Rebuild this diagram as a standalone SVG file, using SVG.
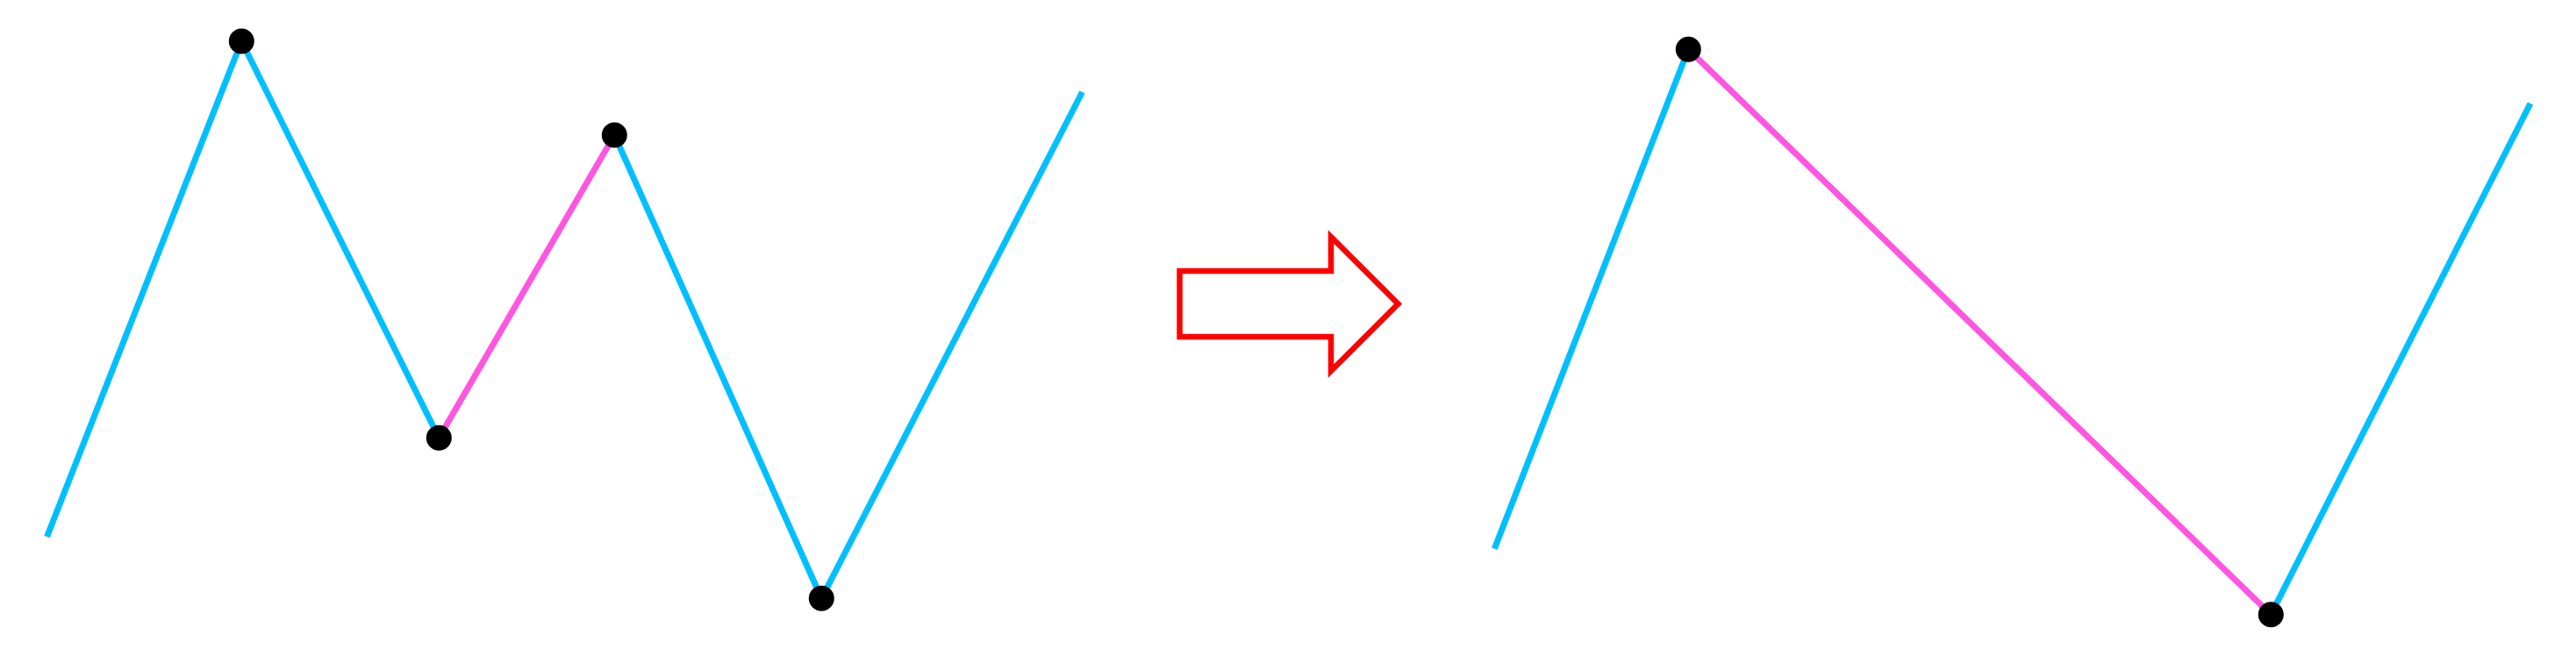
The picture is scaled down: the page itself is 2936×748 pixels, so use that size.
<svg xmlns="http://www.w3.org/2000/svg" width="2936" height="748" viewBox="0 0 2936 748">
<style>
.c{fill:none;stroke:#00bfff;stroke-width:7;stroke-linecap:butt}
.m{fill:none;stroke:#ff55e0;stroke-width:7}
.d{fill:#000}
.a{fill:#fff;stroke:#ff0000;stroke-width:6.5;stroke-miterlimit:10}
</style>
<rect width="2936" height="748" fill="#fff"/>
<g id="connectors">
<polyline class="c" points="53.5,612 275.3,47 500.3,499.3"/>
<line class="m" x1="500.3" y1="499.3" x2="700.3" y2="154"/>
<polyline class="c" points="700.3,154 936.3,682.3 1233.5,105"/>
<line class="c" x1="1703.3" y1="625.7" x2="1924.3" y2="56.3"/>
<line class="m" x1="1924.3" y1="56.3" x2="2588.3" y2="700.7"/>
<line class="c" x1="2588.3" y1="700.7" x2="2884" y2="118"/>
</g>
<g id="arrow">
<polygon class="a" points="1344.5,309 1517,309 1517,270 1593.5,346.5 1517,423 1517,384 1344.5,384"/>
</g>
<g id="n1"><circle class="d" cx="275.3" cy="47" r="14.5"/></g>
<g id="n2"><circle class="d" cx="500.3" cy="499.3" r="14.5"/></g>
<g id="n3"><circle class="d" cx="700.3" cy="154" r="14.5"/></g>
<g id="n4"><circle class="d" cx="936.3" cy="682.3" r="14.5"/></g>
<g id="n5"><circle class="d" cx="1924.3" cy="56.3" r="14.5"/></g>
<g id="n6"><circle class="d" cx="2588.3" cy="700.7" r="14.5"/></g>
</svg>
